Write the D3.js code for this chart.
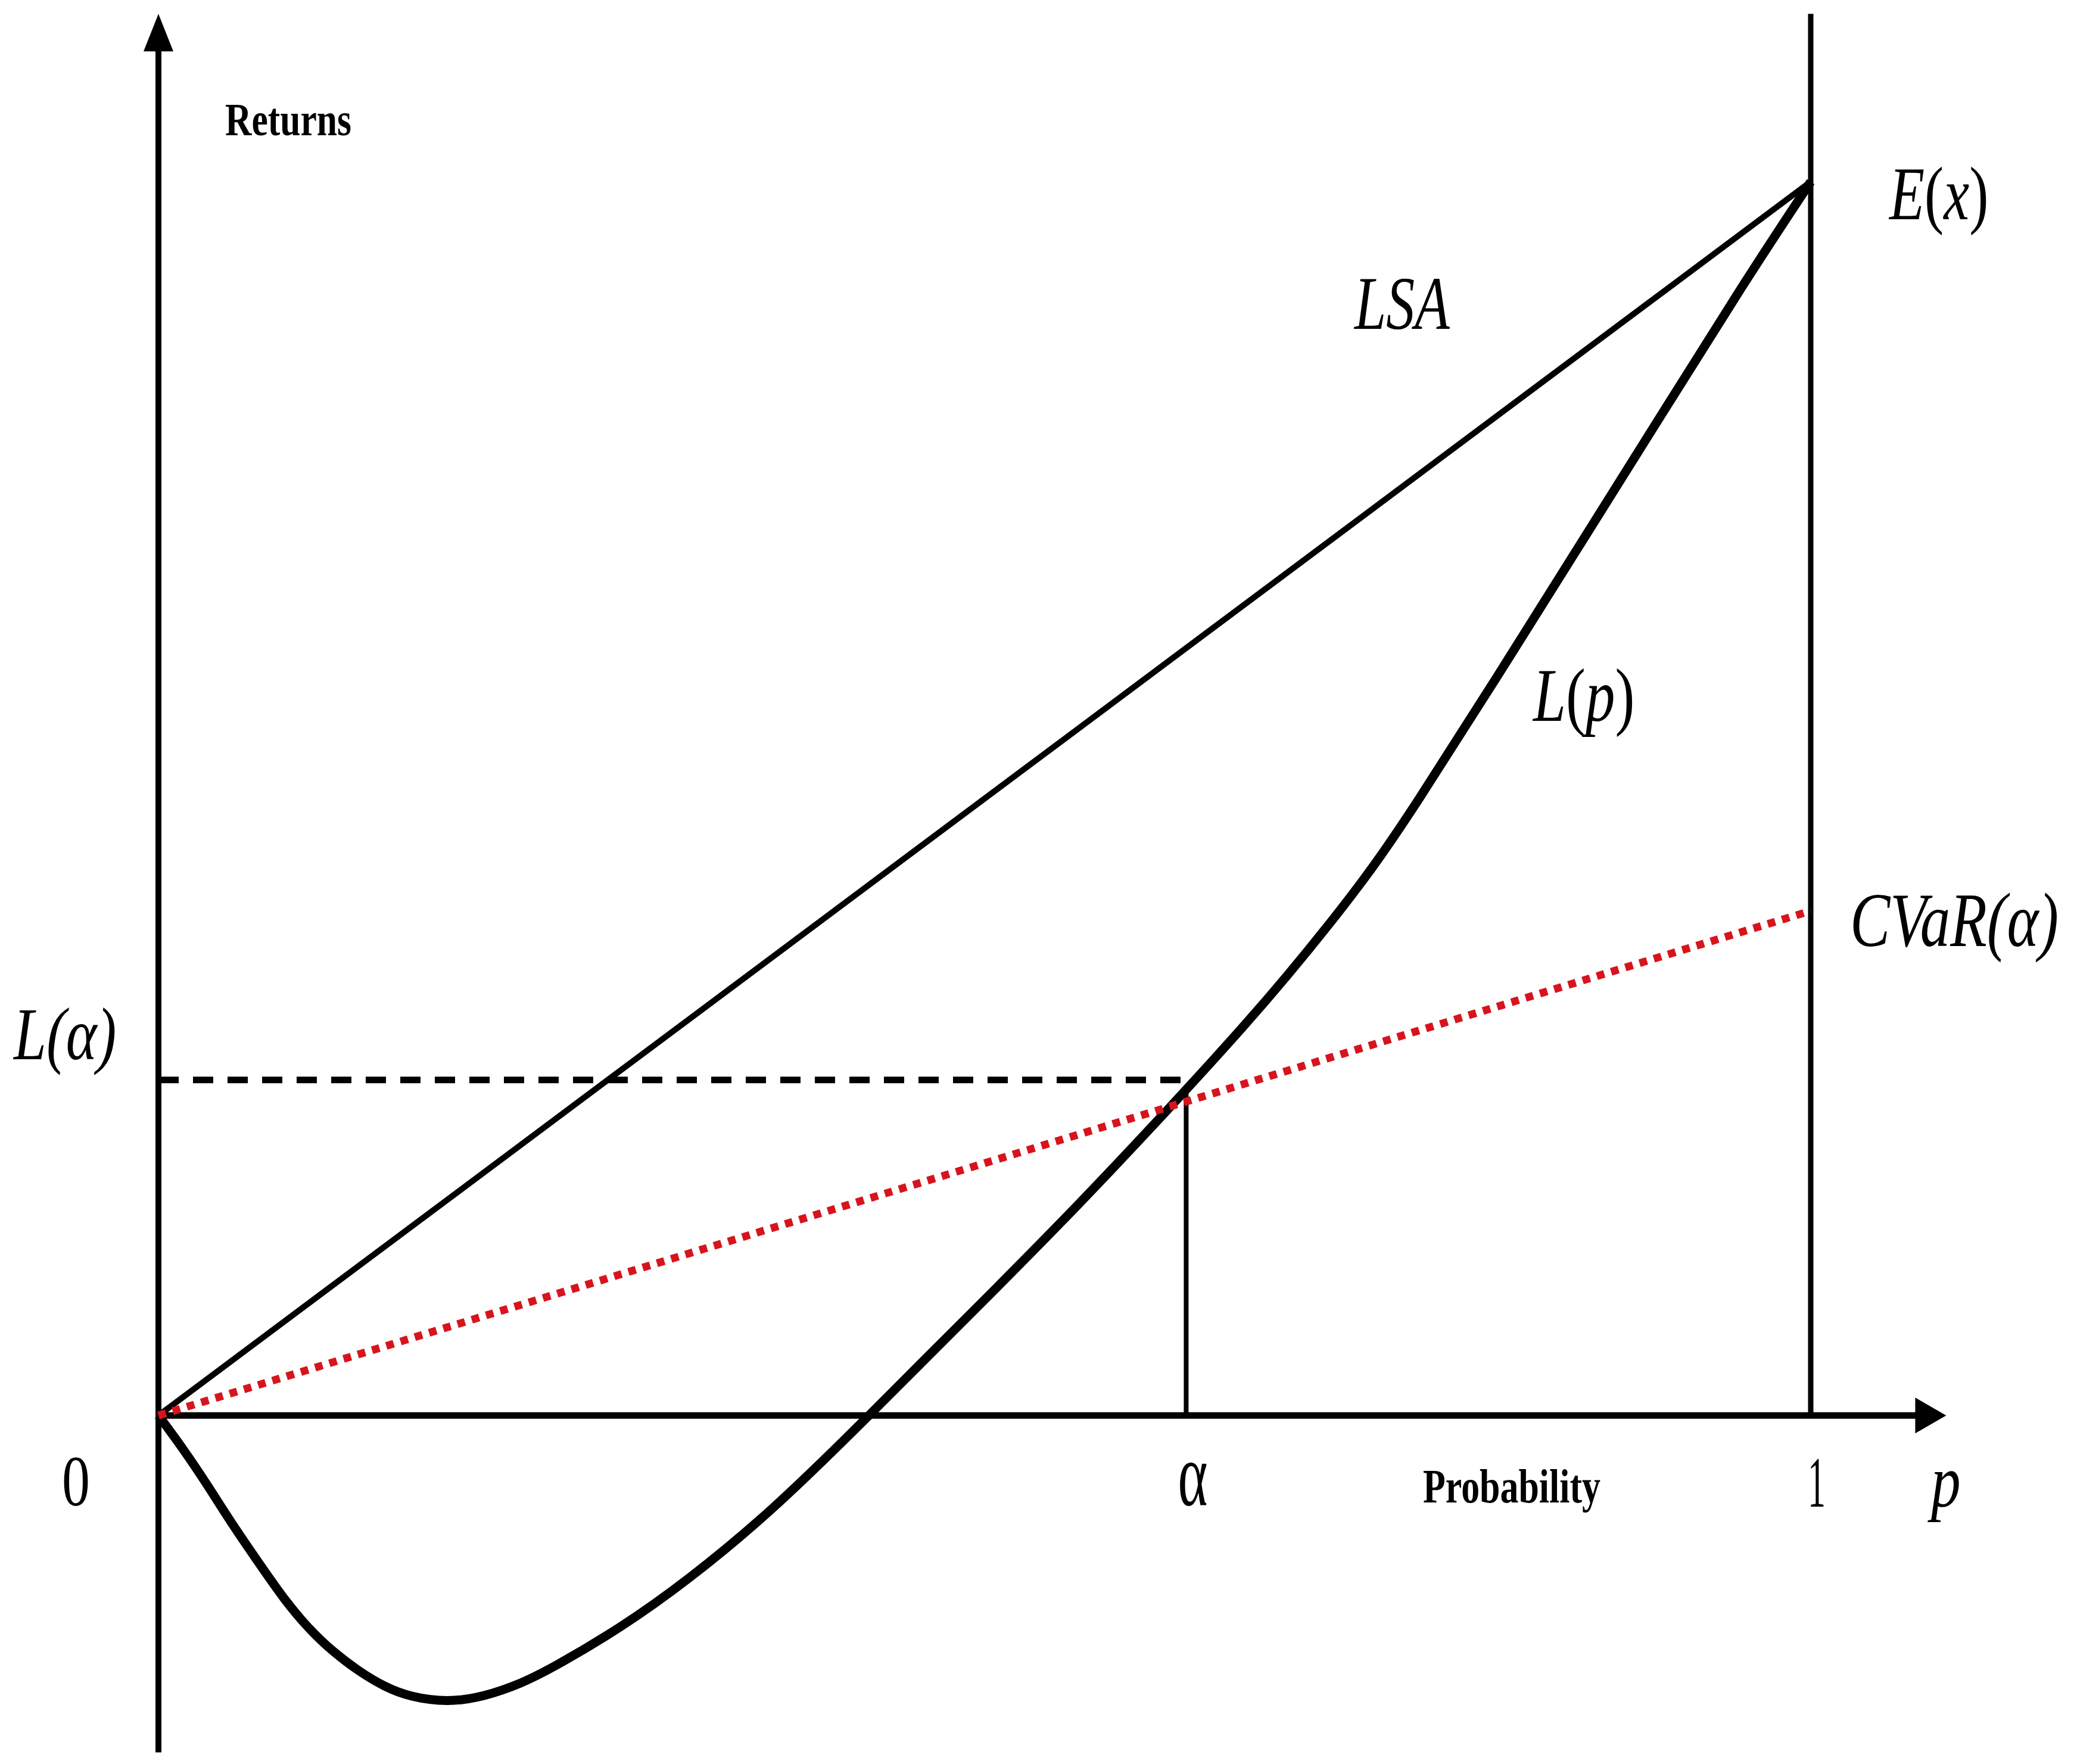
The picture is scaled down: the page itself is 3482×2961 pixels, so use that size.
<!DOCTYPE html>
<html>
<head>
<meta charset="utf-8">
<script src="https://cdn.jsdelivr.net/npm/d3@7"></script>
<style>
  body { margin: 0; background: #fff; }
  svg { display: block; background: #fff; }
  text { font-family: "Liberation Serif", "Times New Roman", serif; fill: #000; }
</style>
</head>
<body>
<div id="viz"></div>
<script>
const width = 3482;
const height = 2961;

// L(p) curve: probability p and return L (E(x) = 1)
const curveP = [0, 0.015, 0.030, 0.045, 0.061, 0.076, 0.091, 0.106, 0.122, 0.137, 0.152, 0.175, 0.197, 0.220, 0.238,
                0.280, 0.320, 0.370, 0.421, 0.430, 0.456, 0.507, 0.557, 0.595, 0.622, 0.658, 0.683, 0.708, 0.734,
                0.759, 0.809, 0.860, 0.911, 0.961, 1];
const curveL = [0, -0.027, -0.057, -0.089, -0.120, -0.149, -0.173, -0.192, -0.208, -0.220, -0.228, -0.2325, -0.228, -0.217, -0.205,
                -0.172, -0.134, -0.079, -0.012, 0, 0.035, 0.103, 0.171, 0.225, 0.264, 0.317, 0.356, 0.397, 0.442,
                0.491, 0.596, 0.705, 0.814, 0.921, 1];

// straight lines from the origin
const lsaP = [0, 1];
const lsaL = [0, 1];
const cvarP = [0, 1];
const cvarL = [0, 0.409];

// marked values
const alpha = 0.622;
const lAlpha = 0.272;
const alphaCurve = 0.262;

// axis extents
const axisP = [0, 1.082];
const axisL = [-0.273, 1.136];

const x = d3.scaleLinear().domain([0, 1]).range([266, 3040]);
const y = d3.scaleLinear().domain([0, 1]).range([2376, 305]);

const svg = d3.select("#viz")
    .append("svg")
    .attr("width", width)
    .attr("height", height)
    .attr("viewBox", `0 0 ${width} ${height}`);

svg.append("rect").attr("width", width).attr("height", height).attr("fill", "#fff");

// axes
const yTip = y(axisL[1]);
svg.append("line")
    .attr("x1", x(0)).attr("x2", x(0))
    .attr("y1", y(axisL[0])).attr("y2", yTip + 55)
    .attr("stroke", "#000").attr("stroke-width", 10);
svg.append("path")
    .attr("d", `M${x(0)},${yTip} L${x(0) - 25},${yTip + 63} L${x(0) + 25},${yTip + 63} Z`)
    .attr("fill", "#000");

const xTip = x(axisP[1]);
svg.append("line")
    .attr("x1", x(0) - 5).attr("x2", xTip - 45)
    .attr("y1", y(0)).attr("y2", y(0))
    .attr("stroke", "#000").attr("stroke-width", 11);
svg.append("path")
    .attr("d", `M${xTip},${y(0)} L${xTip - 52},${y(0) - 30} L${xTip - 52},${y(0) + 30} Z`)
    .attr("fill", "#000");

// vertical line at p = 1
svg.append("line")
    .attr("x1", x(1)).attr("x2", x(1))
    .attr("y1", y(0)).attr("y2", y(axisL[1]))
    .attr("stroke", "#000").attr("stroke-width", 9);

// vertical line at alpha
svg.append("line")
    .attr("x1", x(alpha)).attr("x2", x(alpha))
    .attr("y1", y(0)).attr("y2", y(alphaCurve))
    .attr("stroke", "#000").attr("stroke-width", 8);

// dashed L(alpha) level
svg.append("line")
    .attr("x1", x(0)).attr("x2", x(alpha))
    .attr("y1", y(lAlpha)).attr("y2", y(lAlpha))
    .attr("stroke", "#000").attr("stroke-width", 11)
    .attr("stroke-dasharray", "34 24");

const line = d3.line().x(d => x(d[0])).y(d => y(d[1]));

// LSA line
svg.append("path")
    .attr("d", line(d3.zip(lsaP, lsaL)))
    .attr("fill", "none").attr("stroke", "#000").attr("stroke-width", 10);

// L(p) curve
svg.append("path")
    .attr("d", d3.line().x(d => x(d[0])).y(d => y(d[1])).curve(d3.curveBasis)(d3.zip(curveP, curveL)))
    .attr("fill", "none").attr("stroke", "#000").attr("stroke-width", 15)
    .attr("stroke-linejoin", "round");

// CVaR dotted line
svg.append("path")
    .attr("d", line(d3.zip(cvarP, cvarL)))
    .attr("fill", "none").attr("stroke", "#d7141d").attr("stroke-width", 13)
    .attr("stroke-dasharray", "13 12");

// labels, each squeezed to the width it has in the picture
function label(parts, x0, base, w, size, weight) {
    const g = svg.append("g");
    const t = g.append("text")
        .style("font-size", size + "px")
        .style("font-weight", weight || "normal");
    parts.forEach(p => {
        t.append("tspan")
            .style("font-style", p[1] ? "italic" : "normal")
            .text(p[0]);
    });
    const bw = t.node().getBBox().width;
    g.attr("transform", `translate(${x0},${base}) scale(${w / bw},1)`);
}

label([["Returns", false]], 378, 227, 212, 78, "bold");
label([["E", true], ["(", false], ["x", true], [")", false]], 3172, y(1) + 63, 168, 126);
label([["LSA", true]], 2274, 552, 162, 126);
label([["L", true], ["(", false], ["p", true], [")", false]], 2574, 1210, 172, 126);
label([["CVaR(α)", true]], 3106, y(cvarL[1]) + 59, 350, 130);
label([["L(α)", true]], 23, y(lAlpha) - 35, 174, 126);
label([["0", false]], x(0) - 139 - 23, 2527, 47, 120);
label([["α", false]], x(alpha) + 11 - 25, 2527, 50, 150);
label([["Probability", false]], 2389, 2522, 298, 80, "bold");
label([["1", false]], x(1) + 10 - 15, 2529, 30, 120);
label([["p", true]], 3270 - 28, 2528, 56, 126);
</script>
</body>
</html>
